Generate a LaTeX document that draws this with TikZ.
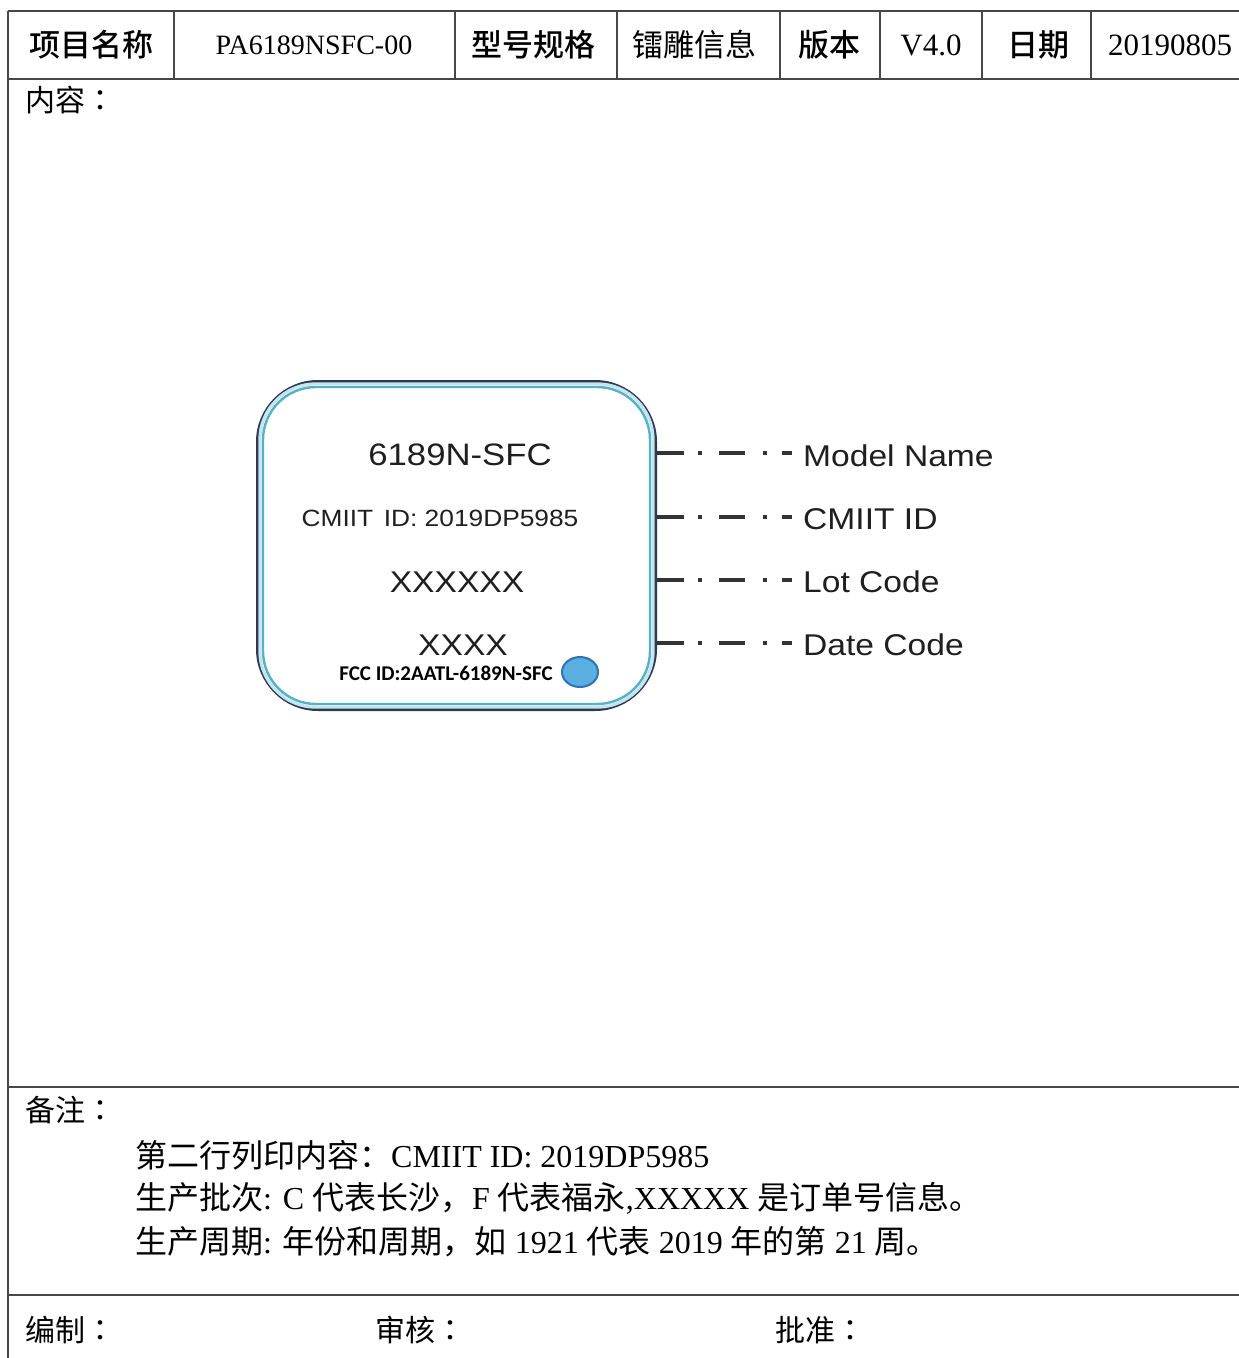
\documentclass[tikz,border=0pt]{standalone}
\usepackage{fontspec}
\usetikzlibrary{shapes.geometric}
\setmainfont{Liberation Serif}
\newfontfamily\cjk{Noto Sans CJK SC}
\newfontfamily\cjkm{Noto Sans CJK SC}[UprightFont=* Medium]
\newfontfamily\cjktc{Noto Sans CJK TC}
\newfontfamily\lab{Liberation Sans}[FakeStretch=1.12]
\newfontfamily\calib{Carlito}
\newcommand\zh[1]{{\cjk #1}}
\newcommand\fcolon{{\cjktc ：}}
\definecolor{navy}{HTML}{2E3A52}
\definecolor{tealb}{HTML}{55B2C6}
\definecolor{halo}{HTML}{C4E4EE}
\definecolor{dotfill}{HTML}{5AAEE0}
\definecolor{dotline}{HTML}{2F73B5}
\begin{document}
\begin{tikzpicture}[x=1pt,y=-1pt,
  tbl/.style={draw=black!72, line width=2pt},
  hd/.style={font=\cjkm\fontsize{31}{36}\selectfont, inner sep=0pt},
  val/.style={font=\fontsize{31}{36}\selectfont, inner sep=0pt},
  zhv/.style={font=\cjk\fontsize{30}{36}\selectfont, inner sep=0pt},
  note/.style={font=\fontsize{32}{36}\selectfont, inner sep=0pt, anchor=west},
  lbl/.style={font=\lab\fontsize{30}{34}\selectfont, text=black!88, inner sep=0pt},
  leader/.style={line width=3.2pt, draw=black!80,
    dash pattern=on 27pt off 14pt on 4pt off 17pt on 26pt off 18pt on 4pt off 15pt on 12pt off 200pt}
]
\useasboundingbox (0,0) rectangle (1239,1358);
\fill[white] (0,0) rectangle (1239,1358);

% table frame
\coordinate (tl) at (8,11);
\coordinate (tr) at (1239,11);
\coordinate (hl) at (8,79);
\coordinate (hr) at (1239,79);
\coordinate (nl) at (8,1087);
\coordinate (nr) at (1239,1087);
\coordinate (bl) at (8,1295);
\coordinate (br) at (1239,1295);
\coordinate (el) at (8,1358);
\draw[tbl] (tl) -- (tr);
\draw[tbl] (hl) -- (hr);
\draw[tbl] (nl) -- (nr);
\draw[tbl] (bl) -- (br);
\draw[tbl] (tl) -- (el);
\foreach \cx in {174,455,617,780,880,982,1091}{
  \draw[tbl] (\cx,11) -- (\cx,79);
}

% header texts
\node[hd]  (h1) at (91,45)   {项目名称};
\node[val, font=\fontsize{28}{34}\selectfont] (v1) at (314,45) {PA6189NSFC-00};
\node[hd]  (h2) at (533,45)  {型号规格};
\node[zhv, font=\cjk\fontsize{31}{36}\selectfont] (v2) at (694,45)  {镭雕信息};
\node[hd]  (h3) at (829,45)  {版本};
\node[val] (v3) at (931,45)  {V4.0};
\node[hd]  (h4) at (1038,45) {日期};
\node[val] (v4) at (1170,45) {20190805};

% section labels
\node[zhv, anchor=west] (content) at (25,100)  {内容\fcolon};
\node[zhv, anchor=west] (remark)  at (25,1110) {备注\fcolon};
\node[zhv, anchor=west] (s1) at (25,1330)  {编制\fcolon};
\node[zhv, anchor=west] (s2) at (375,1330) {审核\fcolon};
\node[zhv, anchor=west] (s3) at (775,1330) {批准\fcolon};

% label drawing
\node[draw=navy, line width=4pt, rounded corners=60pt,
      minimum width=397pt, minimum height=327pt, inner sep=0pt] (box) at (456.5,545.5) {};
\draw[halo, line width=3pt, rounded corners=56pt]
  ([shift={(3.8,3.8)}]box.north west) rectangle ([shift={(-3.8,-3.8)}]box.south east);
\draw[tealb, line width=2.4pt, rounded corners=53pt]
  ([shift={(7,7)}]box.north west) rectangle ([shift={(-7,-7)}]box.south east);

\node[lbl, font=\lab\fontsize{31}{34}\selectfont] (t1) at (460,455) {6189N-SFC};
\node[lbl, font=\lab\fontsize{23.5}{28}\selectfont] (t2) at (440,518) {CMIIT\hspace{0.45em}ID: 2019DP5985};
\node[lbl] (t3) at (457,582) {XXXXXX};
\node[lbl] (t4) at (463,645) {XXXX};
\node[font=\calib\bfseries\fontsize{21}{24}\selectfont, inner sep=0pt] (fcc) at (446,673) {FCC ID:2AATL-6189N-SFC};
\node[ellipse, draw=dotline, fill=dotfill, line width=2pt,
      minimum width=36pt, minimum height=30pt, inner sep=0pt] (dot) at (580,672) {};

% right labels
\node[lbl, anchor=base west] (m1) at (803,466) {Model Name};
\node[lbl, anchor=base west] (m2) at (803,529) {CMIIT ID};
\node[lbl, anchor=base west] (m3) at (803,592) {Lot Code};
\node[lbl, anchor=base west] (m4) at (803,655) {Date Code};
\coordinate (e1) at (792,453);
\coordinate (e2) at (792,517);
\coordinate (e3) at (792,580);
\coordinate (e4) at (792,643);
\foreach \e in {e1,e2,e3,e4}{
  \draw[leader] (box.east |- \e) -- (\e);
}

% remarks
\node[note] (r1) at (135,1155) {\zh{第二行列印内容：}CMIIT ID: 2019DP5985};
\node[note] (r2) at (135,1198) {\zh{生产批次}: C \zh{代表长沙，}F \zh{代表福永},XXXXX \zh{是订单号信息。}};
\node[note] (r3) at (135,1242) {\zh{生产周期}: \zh{年份和周期，如} 1921 \zh{代表} 2019 \zh{年的第} 21 \zh{周。}};
\end{tikzpicture}
\end{document}
